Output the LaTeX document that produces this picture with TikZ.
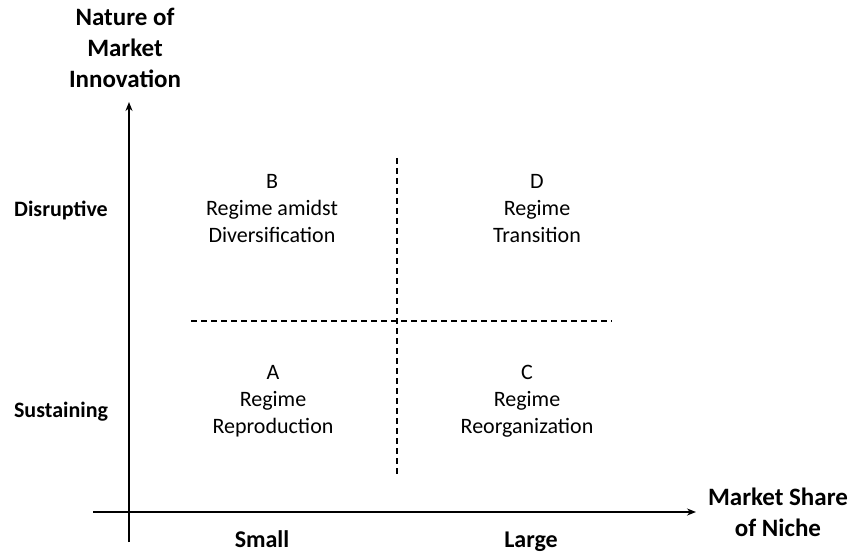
\documentclass[tikz,border=0pt]{standalone}
\usepackage{fontspec}
\setmainfont{Carlito}
\usetikzlibrary{arrows.meta}
\begin{document}
\begin{tikzpicture}[x=1pt,y=-1pt,
  axis/.style={line width=2pt,-{Stealth[length=9pt,width=7pt]}},
  divider/.style={line width=1.8pt,dash pattern=on 6pt off 4pt},
  quad/.style={align=center,font=\fontsize{22}{27}\selectfont,inner sep=0pt},
  lab/.style={align=center,font=\fontsize{25}{31}\selectfont\bfseries,inner sep=0pt},
  side/.style={anchor=base,inner sep=0pt,font=\fontsize{22}{26}\selectfont\bfseries},
  bottom/.style={anchor=base,inner sep=0pt,font=\fontsize{24}{28}\selectfont\bfseries}]
\useasboundingbox (0,0) rectangle (853,553);
\coordinate (ybot) at (129,542);
\coordinate (ytop) at (129,102);
\coordinate (xl) at (93,512);
\coordinate (xr) at (696,512);
\draw[axis] (ybot) -- (ytop);
\draw[axis] (xl) -- (xr);
\coordinate (vt) at (397,158);
\coordinate (vb) at (397,476);
\coordinate (hl) at (191,321);
\coordinate (hr) at (612,321);
\draw[divider] (vt) -- (vb);
\draw[divider] (hl) -- (hr);
\node[quad] (B) at (272,209) {B\\Regime amidst\\Diversification};
\node[quad] (D) at (537,209) {D\\Regime\\Transition};
\node[quad] (A) at (273,401) {A\\Regime\\Reproduction};
\node[quad] (C) at (527,401) {C\\Regime\\Reorganization};
\node[lab] (ylab) at (125,48) {Nature of\\Market\\Innovation};
\node[lab] (xlab) at (778,512) {Market Share\\of Niche};
\node[side] (dis) at (61,217) {Disruptive};
\node[side] (sus) at (61,417) {Sustaining};
\node[bottom] (small) at (262,547) {Small};
\node[bottom] (large) at (531,547) {Large};
\end{tikzpicture}
\end{document}
